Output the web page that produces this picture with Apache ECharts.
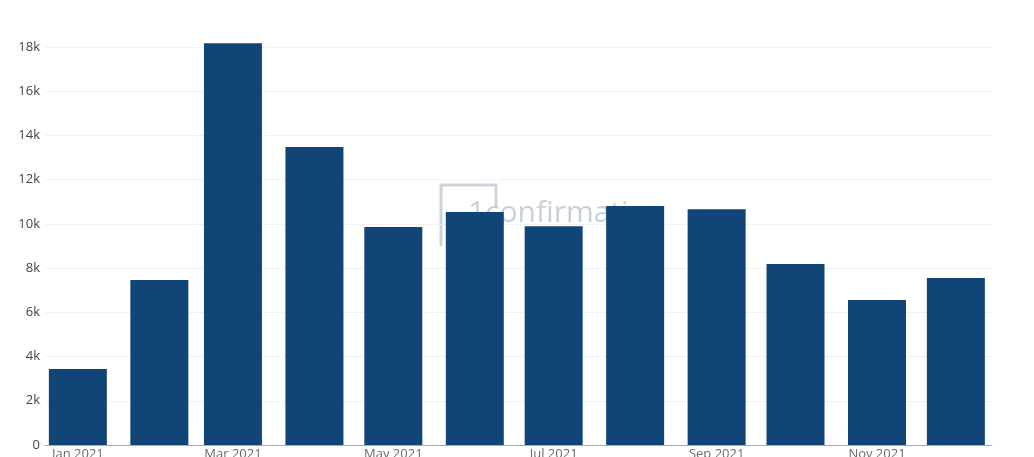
<!DOCTYPE html>
<html>
<head>
<meta charset="utf-8">
<script src="https://cdn.jsdelivr.net/npm/echarts@6/dist/echarts.min.js"></script>
<style>
  html, body { margin: 0; padding: 0; background: #fff; }
  #chart { width: 1034px; height: 457px; }
</style>
</head>
<body>
<div id="chart"></div>
<script>
// Monthly totals for 2021
const months = ['2021-01-01','2021-02-01','2021-03-01','2021-04-01','2021-05-01','2021-06-01',
                '2021-07-01','2021-08-01','2021-09-01','2021-10-01','2021-11-01','2021-12-01'];
const values = [3440, 7460, 18180, 13480, 9860, 10540, 9900, 10810, 10670, 8190, 6560, 7550];

// Bottom axis ticks every two months
const tickDates = ['2021-01-01','2021-03-01','2021-05-01','2021-07-01','2021-09-01','2021-11-01'];
const tickLabels = ['Jan 2021','Mar 2021','May 2021','Jul 2021','Sep 2021','Nov 2021'];

const ts = s => { const p = s.split('-').map(Number); return Date.UTC(p[0], p[1] - 1, p[2]); };

const chart = echarts.init(document.getElementById('chart'), null, { renderer: 'canvas' });
chart.setOption({
  animation: false,
  backgroundColor: '#ffffff',
  textStyle: { fontFamily: '"Open Sans", sans-serif' },
  grid: { left: 45, right: 42, top: 25, bottom: 12, containLabel: false },
  graphic: [
    {
      type: 'group', z: -10, silent: true,
      children: [
        { type: 'polyline', shape: { points: [[441, 246], [441, 185], [496, 185], [496, 208]] },
          style: { stroke: 'rgba(196,203,214,0.85)', lineWidth: 3, fill: null } },
        { type: 'text', left: 468, top: 198,
          style: { text: '1confirmation', font: '30px "Open Sans", sans-serif',
                   fill: 'rgba(190,199,214,0.85)' } }
      ]
    }
  ],
  xAxis: {
    // time measured in ms on a linear axis
    type: 'value',
    min: ts('2020-12-19') + 12 * 3600e3,
    max: ts('2021-12-14') + 18 * 3600e3,
    axisLine: { show: true, onZero: false, lineStyle: { color: '#aaaaaa', width: 1 } },
    axisTick: { show: false },
    splitLine: { show: false },
    axisLabel: { show: false }
  },
  yAxis: {
    type: 'value',
    min: 0, max: 19000, interval: 2000,
    axisLine: { show: false },
    axisTick: { show: false },
    splitLine: { show: true, showMaxLine: false, lineStyle: { color: '#f1f1f1', width: 1 } },
    axisLabel: {
      color: '#444', fontSize: 13, margin: 5, showMaxLabel: false,
      formatter: v => v === 0 ? '0' : (v / 1000) + 'k'
    }
  },
  series: [
    {
      type: 'bar',
      barWidth: 58,
      itemStyle: { color: '#124577' },
      data: months.map((m, i) => [ts(m), values[i]])
    },
    {
      // date labels under the axis, placed at each tick date
      type: 'scatter',
      symbolSize: 0,
      clip: false,
      silent: true,
      z: 5,
      label: {
        show: true, position: 'bottom', distance: 3,
        color: '#444', fontSize: 13,
        formatter: p => tickLabels[p.dataIndex]
      },
      data: tickDates.map(d => [ts(d), 0])
    }
  ]
});
</script>
</body>
</html>
